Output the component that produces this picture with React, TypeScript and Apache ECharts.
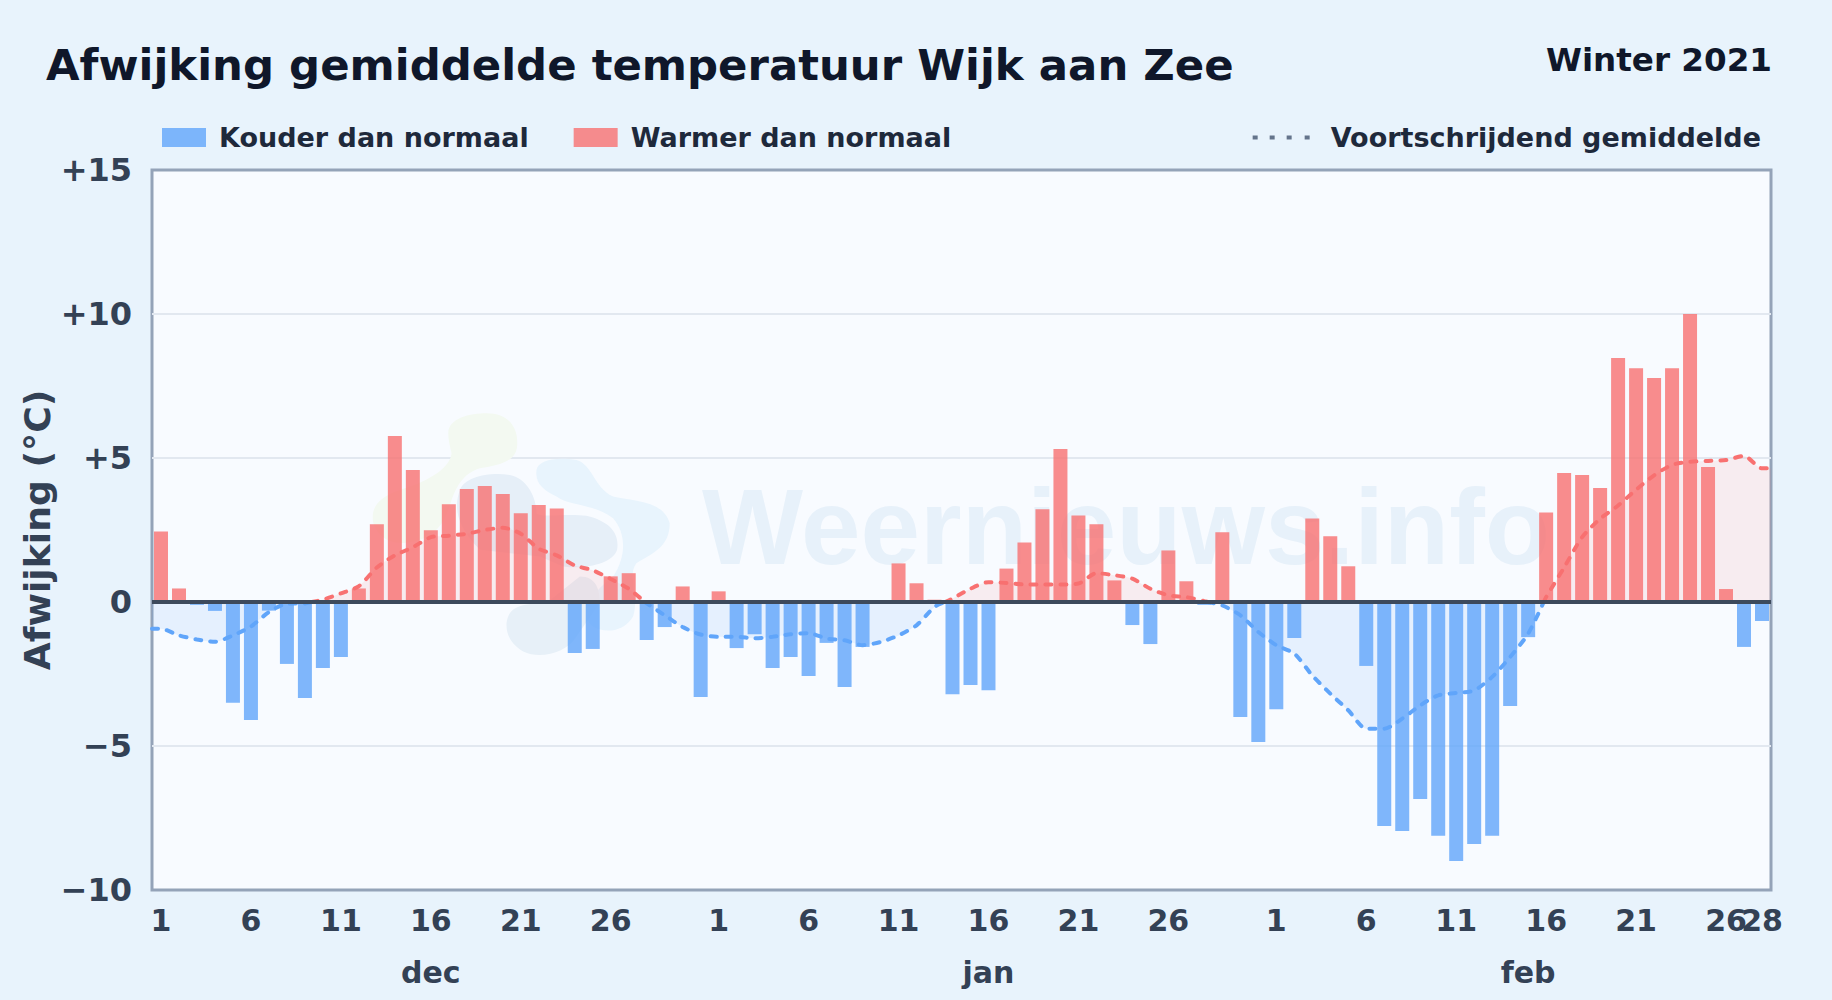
import React, { useEffect, useRef } from "react";
import * as echarts from "echarts";

const TITLE = "Afwijking gemiddelde temperatuur Wijk aan Zee";
const PERIOD = "Winter 2021";
const COLD = "Kouder dan normaal";
const WARM = "Warmer dan normaal";
const AVG = "Voortschrijdend gemiddelde";
const Y_NAME = "Afwijking (°C)";

const decDeviation = [2.45, 0.47, -0.1, -0.31, -3.5, -4.1, -0.3, -2.15, -3.33, -2.29, -1.91, 0.47, 2.7, 5.76, 4.58, 2.49, 3.39, 3.92, 4.03, 3.75, 3.08, 3.37, 3.25, -1.77, -1.63, 0.89, 1.0, -1.32, -0.87, 0.54, -3.3];
const janDeviation = [0.37, -1.6, -1.12, -2.29, -1.91, -2.57, -1.42, -2.95, -1.56, 0, 1.34, 0.65, 0.08, -3.2, -2.88, -3.06, 1.16, 2.07, 3.22, 5.31, 3.0, 2.7, 0.75, -0.8, -1.46, 1.79, 0.72, -0.1, 2.42, -3.99, -4.86];
const febDeviation = [-3.72, -1.25, 2.9, 2.28, 1.24, -2.22, -7.78, -7.95, -6.84, -8.12, -8.99, -8.4, -8.12, -3.61, -1.22, 3.11, 4.48, 4.41, 3.96, 8.47, 8.12, 7.78, 8.12, 10.0, 4.69, 0.45, -1.56, -0.66];

const decAverage = [-0.93, -1.16, -1.3, -1.38, -1.16, -0.85, -0.35, -0.06, -0.05, 0.08, 0.3, 0.55, 1.2, 1.62, 1.9, 2.25, 2.3, 2.37, 2.5, 2.58, 2.37, 1.85, 1.62, 1.27, 1.1, 0.8, 0.46, -0.05, -0.46, -0.87, -1.13];
const janAverage = [-1.21, -1.21, -1.26, -1.21, -1.12, -1.08, -1.27, -1.33, -1.5, -1.39, -1.16, -0.81, -0.17, 0.12, 0.46, 0.69, 0.66, 0.61, 0.61, 0.61, 0.64, 1.0, 0.93, 0.81, 0.46, 0.23, 0.17, 0.03, -0.12, -0.46, -1.04];
const febAverage = [-1.5, -1.79, -2.55, -3.18, -3.76, -4.4, -4.4, -4.05, -3.59, -3.24, -3.16, -3.07, -2.6, -1.91, -1.1, 0.17, 1.2, 2.25, 2.89, 3.35, 3.9, 4.4, 4.76, 4.87, 4.9, 4.93, 5.07, 4.64];

const deviation = [...decDeviation, ...janDeviation, ...febDeviation];
const average = [...decAverage, ...janAverage, ...febAverage];
const dayLabels = [...decDeviation.map((_, i) => String(i + 1)), ...janDeviation.map((_, i) => String(i + 1)), ...febDeviation.map((_, i) => String(i + 1))];
const monthLabels = dayLabels.map((_, i) => (i === 15 ? "dec" : i === 46 ? "jan" : i === 76 ? "feb" : ""));
const lastDayLabels = dayLabels.map((d, i) => (i === dayLabels.length - 1 ? d : ""));
const shownDayIndexes = [0, 5, 10, 15, 20, 25, 31, 36, 41, 46, 51, 56, 62, 67, 72, 77, 82, 87];

const blobGreen = "M205 130 C205 85 270 70 320 70 C385 70 415 110 412 165 C410 215 360 225 300 235 C250 250 230 290 215 330 C200 380 180 430 120 450 C60 470 0 460 -20 400 C-30 350 0 320 60 300 C130 280 210 240 215 190 C210 170 205 150 205 130 Z";
const blobLight = "M470 240 C475 210 530 200 590 210 C640 225 640 290 700 320 C760 335 850 330 870 400 C870 470 820 490 770 520 C740 560 780 620 760 680 C730 730 670 730 640 710 C600 680 620 620 700 560 C740 500 740 430 700 385 C640 340 570 350 530 320 C490 300 465 280 470 240 Z";
const blobGrey = "M240 300 C255 260 330 245 390 255 C440 265 470 320 470 370 C480 385 560 370 620 378 C690 395 720 430 712 480 C700 520 620 540 550 530 L480 500 L300 480 C220 400 225 340 240 300 Z";
const blobLow = "M380 700 C385 650 430 640 500 640 L600 560 C650 560 660 600 660 640 L590 740 C560 790 480 810 430 785 C395 765 378 735 380 700 Z";
const dottedIcon = "path://M0 0h5v4h-5z M17 0h5v4h-5z M34 0h5v4h-5z M52 0h5v4h-5z";
echarts.graphic.registerShape("blobGreen", echarts.graphic.extendPath(blobGreen, {}));
echarts.graphic.registerShape("blobLight", echarts.graphic.extendPath(blobLight, {}));
echarts.graphic.registerShape("blobGrey", echarts.graphic.extendPath(blobGrey, {}));
echarts.graphic.registerShape("blobLow", echarts.graphic.extendPath(blobLow, {}));

const FONT = "'DejaVu Sans', sans-serif";

function signedPart(sign: number) {
  const pts: [number, number][] = [[0, average[0]], ...average.map((v, i) => [i + 0.5, v] as [number, number]), [90, average[average.length - 1]]];
  const out: any[] = [];
  pts.forEach((p, i) => {
    out.push(sign * p[1] >= 0 ? [p[0], p[1]] : [p[0], null]);
    const n = pts[i + 1];
    if (n && p[1] * n[1] < 0) out.push([p[0] + ((n[0] - p[0]) * p[1]) / (p[1] - n[1]), 0]);
  });
  return out;
}

function blob(type: string, fill: string) {
  return { type, x: 380, y: 390, scaleX: 1 / 3, scaleY: 1 / 3, z: 1, silent: true, style: { fill } };
}

function avgSeries(name: string, sign: number, color: string, area: string) {
  return {
    name,
    type: "line",
    xAxisIndex: 2,
    yAxisIndex: 0,
    data: signedPart(sign),
    smooth: 0.25,
    symbol: "none",
    connectNulls: false,
    z: 2,
    silent: true,
    lineStyle: { color, width: 4, type: [6, 9], cap: "round" },
    areaStyle: { color: area },
  };
}

const tickStyle = { fontFamily: FONT, fontSize: 30, fontWeight: "bold", color: "#334155" };
const quietAxis = { type: "category", position: "bottom", axisLine: { show: false }, axisTick: { show: false }, splitLine: { show: false } };

export default function App() {
  const ref = useRef<HTMLDivElement>(null);
  useEffect(() => {
    document.body.style.margin = "0";
    const chart = echarts.init(ref.current!, undefined, { renderer: "svg" });
    chart.setOption({
      animation: false,
      backgroundColor: "#e8f3fc",
      textStyle: { fontFamily: FONT },
      title: [
        { text: TITLE, left: 41, top: 38.5, textStyle: { fontFamily: FONT, fontSize: 43.4, fontWeight: "bold", color: "#0f172a" } },
        { text: PERIOD, right: 55, top: 38, textStyle: { fontFamily: FONT, fontSize: 32.6, fontWeight: "bold", color: "#0f172a" } },
      ],
      legend: [
        {
          data: [
            { name: COLD, icon: "rect" },
            { name: WARM, icon: "rect" },
          ],
          left: 157,
          top: 119,
          itemWidth: 44,
          itemHeight: 19,
          itemGap: 45,
          selectedMode: false,
          textStyle: { fontFamily: FONT, fontSize: 27, fontWeight: "bold", color: "#1e293b", padding: [0, 0, 0, 8] },
        },
        {
          data: [{ name: AVG, icon: dottedIcon }],
          right: 66,
          top: 119,
          itemWidth: 57,
          itemHeight: 4,
          selectedMode: false,
          itemStyle: { color: "#64748b" },
          textStyle: { fontFamily: FONT, fontSize: 27, fontWeight: "bold", color: "#1e293b", padding: [0, 0, 0, 16] },
        },
      ],
      grid: { left: 152, right: 61, top: 170, bottom: 110, show: true, backgroundColor: "#f8fbff", borderColor: "#94a3b8", borderWidth: 3, containLabel: false },
      xAxis: [
        {
          ...quietAxis,
          data: dayLabels,
          axisLabel: {
            ...tickStyle,
            interval: (i: number) => shownDayIndexes.includes(i),
            showMinLabel: true,
            showMaxLabel: true,
            margin: 15,
          },
        },
        {
          ...quietAxis,
          data: monthLabels,
          axisLabel: { ...tickStyle, interval: 0, margin: 67 },
        },
        { type: "value", min: 0, max: 90, show: false },
        {
          ...quietAxis,
          data: lastDayLabels,
          axisLabel: { ...tickStyle, interval: 0, showMaxLabel: true, margin: 15 },
        },
      ],
      yAxis: [
        {
          type: "value",
          min: -10,
          max: 15,
          interval: 5,
          name: Y_NAME,
          nameLocation: "middle",
          nameGap: 97,
          nameMoveOverlap: false,
          nameTextStyle: { fontFamily: FONT, fontSize: 36.2, fontWeight: "bold", color: "#334155" },
          axisLine: { show: false },
          axisTick: { show: false },
          splitLine: { show: true, showMinLine: false, showMaxLine: false, lineStyle: { color: "#e2e8f0", width: 2 } },
          axisLabel: {
            margin: 20,
            fontFamily: FONT,
            fontSize: 32,
            fontWeight: "bold",
            color: "#334155",
            formatter: (v: number) => (v > 0 ? "+" + v : v < 0 ? "\u2212" + Math.abs(v) : "0"),
          },
        },
      ],
      graphic: [
        blob("blobGreen", "#f3f9f1"),
        blob("blobLight", "#e8f4fd"),
        blob("blobGrey", "#e6eff8"),
        blob("blobLow", "#e7f0f8"),
        {
          type: "text",
          x: 702,
          y: 473,
          z: 1,
          silent: true,
          style: { text: "Weernieuws.info", fontFamily: "'Liberation Sans', sans-serif", fontWeight: "bold", fontSize: 107, fill: "#e7f1fa", verticalAlign: "top" },
        },
      ],
      series: [
        avgSeries("Gemiddelde koud", -1, "#60a5fa", "rgba(96,165,250,0.18)"),
        avgSeries("Gemiddelde warm", 1, "#f87171", "rgba(248,113,113,0.15)"),
        {
          name: AVG,
          type: "line",
          xAxisIndex: 2,
          data: [],
          symbol: "none",
          lineStyle: { color: "#64748b", width: 4, type: [5, 11] },
        },
        {
          name: COLD,
          type: "bar",
          stack: "dev",
          barWidth: 14,
          z: 3,
          silent: true,
          itemStyle: { color: "rgba(96,165,250,0.8)" },
          data: deviation.map((v) => (v < 0 ? v : null)),
        },
        {
          name: WARM,
          type: "bar",
          stack: "dev",
          barWidth: 14,
          z: 3,
          silent: true,
          itemStyle: { color: "rgba(248,113,113,0.8)" },
          data: deviation.map((v) => (v >= 0 ? v : null)),
          markLine: {
            silent: true,
            symbol: ["none", "none"],
            label: { show: false },
            lineStyle: { color: "#3d4a5c", width: 4, type: "solid" },
            data: [{ yAxis: 0 }],
            z: 5,
          },
        },
      ],
    });
    return () => chart.dispose();
  }, []);
  return <div ref={ref} style={{ width: 1832, height: 1000 }} />;
}
